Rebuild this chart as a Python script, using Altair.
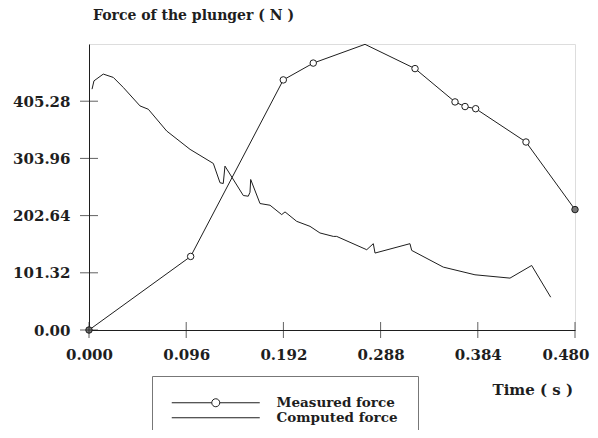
import altair as alt
import pandas as pd

FONT = "DejaVu Serif"
INK = "#1e1e1e"

# axis ticks
x_ticks = [0.0, 0.096, 0.192, 0.288, 0.384, 0.480]
y_ticks = [0.0, 101.32, 202.64, 303.96, 405.28]
y_max = 506.60

# measured force (circles)
meas_t = [0.0, 0.1004, 0.1919, 0.2215, 0.2726, 0.3220, 0.3615, 0.3714, 0.3819, 0.4316, 0.4800]
meas_f = [0.0, 130.3, 443.0, 472.8, 506.0, 463.0, 404.0, 395.8, 392.0, 333.0, 213.3]
meas_mark = ["end", "open", "open", "open", "none", "open", "open", "open", "open", "open", "end"]

# computed force
comp_t = [0.0030, 0.0049, 0.0141, 0.0240, 0.0339, 0.0504, 0.0586, 0.0767, 0.0998,
          0.1228, 0.1294, 0.1326, 0.1343, 0.1524, 0.1573, 0.1590, 0.1597, 0.1689,
          0.1788, 0.1903, 0.1936, 0.2051, 0.2183, 0.2281, 0.2413, 0.2446, 0.2743,
          0.2808, 0.2825, 0.3170, 0.3187, 0.3499, 0.3812, 0.4158, 0.4372, 0.4560]
comp_f = [426.6, 441.3, 453.3, 447.4, 429.6, 396.9, 391.0, 352.5, 320.0,
          295.0, 260.8, 259.5, 290.3, 238.2, 237.0, 244.0, 266.6, 224.0,
          221.0, 204.4, 209.2, 192.5, 183.6, 171.9, 165.8, 165.8, 142.2,
          152.9, 136.3, 152.9, 141.0, 111.4, 97.8, 91.9, 114.3, 58.1]

series_names = ["Measured force", "Computed force"]

rows = []
for i, (t, f) in enumerate(zip(meas_t, meas_f)):
    rows.append({"t": t, "f": f, "series": series_names[0], "idx": i})
for i, (t, f) in enumerate(zip(comp_t, comp_f)):
    rows.append({"t": t, "f": f, "series": series_names[1], "idx": i})
lines_df = pd.DataFrame(rows)
key_df = lines_df[lines_df["idx"] == 0]

pts_df = pd.DataFrame({"t": meas_t, "f": meas_f, "mark": meas_mark})
pts_df = pts_df[pts_df["mark"] != "none"]

xt_df = pd.DataFrame({"t": x_ticks, "f": [0.0] * len(x_ticks)})
yt_df = pd.DataFrame({"t": [0.0] * len(y_ticks), "f": y_ticks})

xscale = alt.Scale(domain=[0, 0.48], nice=False, zero=False)
yscale = alt.Scale(domain=[0, y_max], nice=False, zero=False)

x_axis = alt.Axis(values=x_ticks, format=".3f", title="Time ( s )", ticks=False,
                  labelPadding=17, labelFont=FONT, labelFontSize=15, labelFontWeight="bold",
                  labelColor=INK, titleFont=FONT, titleFontSize=15, titleFontWeight="bold",
                  titleColor=INK, titleAnchor="start", titleAlign="left", titleBaseline="middle",
                  titleX=403, titleY=59, grid=False, domainColor=INK, labelFlush=False,
                  labelAlign=alt.ExprRef(expr="datum.value >= 0.48 ? 'right' : 'center'"),
                  labelOffset=alt.ExprRef(expr="datum.value >= 0.48 ? 14 : 0"))
y_axis = alt.Axis(values=y_ticks, format=".2f", title=None, ticks=False,
                  labelPadding=19, labelFont=FONT, labelFontSize=15, labelFontWeight="bold",
                  labelColor=INK, grid=False, domainColor=INK, labelFlush=False)

meas_path = "M-11,0H-1M1,0H11M-1,0A1,1,0,1,0,1,0A1,1,0,1,0,-1,0"
comp_path = "M-11,0H11"

legend = alt.Legend(
    title=None, orient="none", legendX=63, legendY=332, direction="vertical",
    strokeColor="#777", padding=20, symbolSize=64, symbolOffset=37, labelOffset=54,
    symbolStrokeWidth=1, symbolStrokeColor=INK, symbolFillColor="transparent",
    symbolOpacity=1,
    labelFont=FONT, labelFontSize=13.5, labelFontWeight="bold", labelColor=INK,
    rowPadding=0,
)

lines = alt.Chart(lines_df).mark_line(strokeWidth=1, color=INK).encode(
    x=alt.X("t:Q", scale=xscale, axis=x_axis),
    y=alt.Y("f:Q", scale=yscale, axis=y_axis),
    detail="series:N",
    order="idx:Q",
)

key = alt.Chart(key_df).mark_point(size=64, strokeWidth=1, filled=False, color=INK,
                                   strokeOpacity=0, fillOpacity=0).encode(
    x=alt.X("t:Q", scale=xscale),
    y=alt.Y("f:Q", scale=yscale),
    shape=alt.Shape("series:N",
                    scale=alt.Scale(domain=series_names, range=[meas_path, comp_path]),
                    legend=legend),
)

points = alt.Chart(pts_df).mark_point(size=42, strokeWidth=1, filled=False, opacity=1).encode(
    x=alt.X("t:Q", scale=xscale),
    y=alt.Y("f:Q", scale=yscale),
    fill=alt.Fill("mark:N", scale=alt.Scale(domain=["open", "end"], range=["white", "#777"]),
                  legend=None),
    stroke=alt.value(INK),
)

xticks = alt.Chart(xt_df).mark_tick(orient="vertical", size=16, thickness=1, color=INK).encode(
    x=alt.X("t:Q", scale=xscale), y=alt.Y("f:Q", scale=yscale))
yticks = alt.Chart(yt_df).mark_tick(orient="horizontal", size=18, thickness=1, color=INK).encode(
    x=alt.X("t:Q", scale=xscale), y=alt.Y("f:Q", scale=yscale))

chart = alt.layer(lines, key, points, xticks, yticks).properties(
    width=486, height=286,
    padding={"left": 81, "top": 36, "right": 15, "bottom": 100},
    autosize=alt.AutoSizeParams(type="none"),
    title=alt.TitleParams("Force of the plunger ( N )", anchor="start", frame="group",
                          offset=19, dx=4, font=FONT, fontSize=14, fontWeight="bold",
                          color=INK),
).configure_view(stroke=INK, strokeWidth=1).configure(background="white")

chart.save("out.html", embed_options={"renderer": "svg", "actions": False})
